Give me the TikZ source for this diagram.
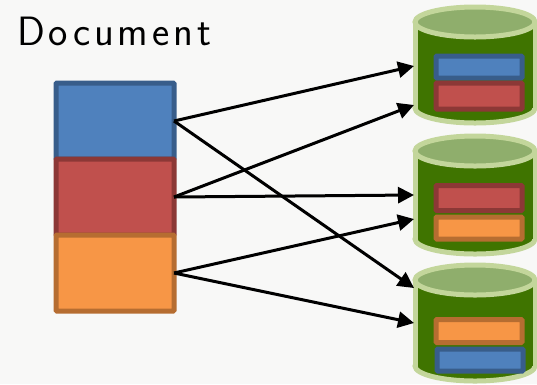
\documentclass[tikz,border=0pt]{standalone}
\usepackage{fontspec}
\usepackage{tikz}
\usetikzlibrary{arrows.meta}
\newfontfamily\titlefont[LetterSpace=9.5]{Latin Modern Sans}
\definecolor{bluefill}{HTML}{4F81BD}
\definecolor{blueline}{HTML}{385D8A}
\definecolor{redfill}{HTML}{C0504D}
\definecolor{redline}{HTML}{8C3836}
\definecolor{orangefill}{HTML}{F79646}
\definecolor{orangeline}{HTML}{B66D31}
\definecolor{cylbody}{HTML}{3F7400}
\definecolor{cylline}{HTML}{C3D69B}
\definecolor{cyltop}{HTML}{8FAE6C}
\definecolor{paper}{HTML}{F8F8F7}
\tikzset{
  box/.style={draw,line width=5pt,rounded corners=1pt,inner sep=0pt,outer sep=0pt},
  bluebox/.style={box,draw=blueline,fill=bluefill},
  redbox/.style={box,draw=redline,fill=redfill},
  orangebox/.style={box,draw=orangeline,fill=orangefill},
  bigbox/.style={minimum width=118pt,minimum height=76pt},
  link/.style={line width=3pt,-{Triangle[length=16pt,width=16pt]}},
}
\newcommand{\cyl}[2]{%
\draw[line width=5pt,draw=cylline,fill=cylbody](475,#2) ellipse (60 and 15);
\fill[cylbody](415,#1)rectangle(535,#2);
\draw[line width=5pt,draw=cylline](415,#1)--(415,#2);
\draw[line width=5pt,draw=cylline](535,#1)--(535,#2);
\draw[line width=5pt,draw=cylline,fill=cyltop](475,#1) ellipse (60 and 15);
}
\begin{document}
\begin{tikzpicture}[x=1pt,y=-1pt]
\fill[paper](0,0)rectangle(537,384);
\useasboundingbox(0,0)rectangle(537,384);
\node[anchor=west,font=\titlefont\fontsize{41}{46}\selectfont,inner sep=0pt] (title) at (17,31) {Document};
\node[bluebox,bigbox] (blueseg) at (115,121) {};
\node[redbox,bigbox] (redseg) at (115,197) {};
\node[orangebox,bigbox] (orangeseg) at (115,273) {};
\cyl{22}{108}
\cyl{151}{239}
\cyl{280}{366}
\node[bluebox,minimum width=86pt,minimum height=22pt] (blueone) at (479,67) {};
\node[redbox,minimum width=86pt,minimum height=26pt] (redone) at (479,96) {};
\node[redbox,minimum width=86pt,minimum height=25pt] (redtwo) at (479,198) {};
\node[orangebox,minimum width=86pt,minimum height=22pt] (orangetwo) at (479,228) {};
\node[orangebox,minimum width=86pt,minimum height=23pt] (orangethree) at (479,331) {};
\node[bluebox,minimum width=86pt,minimum height=22pt] (bluethree) at (480,360) {};
\coordinate (ina) at (414,66);
\coordinate (inb) at (414,105);
\coordinate (inc) at (414,195);
\coordinate (ind) at (414,219);
\coordinate (ine) at (414,288);
\coordinate (inf) at (414,323);
\draw[link](blueseg.east)--(ina);
\draw[link](blueseg.east)--(ine);
\draw[link](redseg.east)--(inb);
\draw[link](redseg.east)--(inc);
\draw[link](orangeseg.east)--(ind);
\draw[link](orangeseg.east)--(inf);
\end{tikzpicture}
\end{document}
